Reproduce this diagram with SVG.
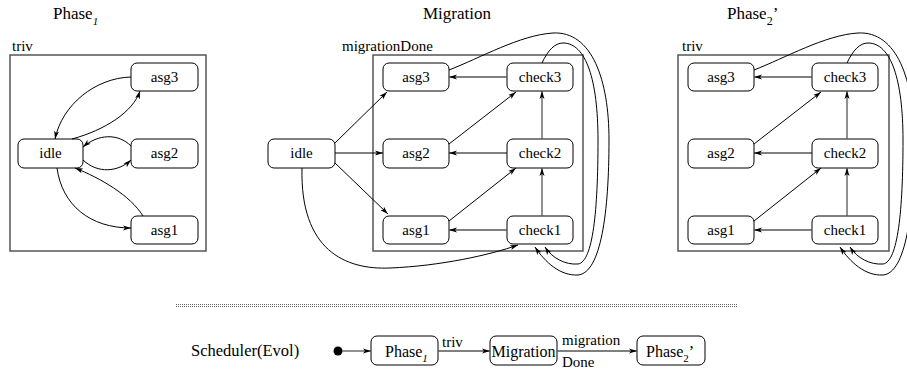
<svg xmlns="http://www.w3.org/2000/svg" width="907" height="371" viewBox="0 0 907 371">
<style>
text{fill:#000}
.n{font-size:15px;text-anchor:middle}
.t{font-size:17px}
.l{font-size:15px}
.sub{font-size:11px;font-style:italic}
.node{fill:#fff;stroke:#000;stroke-width:1}
.box{fill:none;stroke:#555;stroke-width:1.5}
.c{fill:none;stroke:#000;stroke-width:1;marker-end:url(#ah)}
.g{fill:none;stroke:#555;stroke-width:1.3;marker-end:url(#ah)}
</style>
<defs>
<marker id="ah" markerWidth="9" markerHeight="6" refX="8" refY="3" orient="auto" markerUnits="userSpaceOnUse">
<path d="M0,0.5 L8,3 L0,5.5 L2,3 z" fill="#000"/>
</marker>
<pattern id="dots" width="2" height="2" patternUnits="userSpaceOnUse">
<rect width="1" height="1" fill="#666"/>
</pattern>
</defs>
<g font-family="'Liberation Serif', 'DejaVu Serif', serif">

<!-- Titles -->
<g id="titles">
<text class="t" x="53" y="19">Phase<tspan class="sub" dy="6">1</tspan></text>
<text class="t" x="423" y="19">Migration</text>
<text class="t" x="727" y="19">Phase<tspan font-size="12px" dy="6">2</tspan><tspan dy="-6">’</tspan></text>
</g>

<!-- Phase1 panel -->
<g id="phase1-box">
<rect class="box" x="10" y="55" width="196" height="196"/>
<text class="l" x="12" y="51">triv</text>
</g>
<g id="p1-asg3"><rect class="node" x="131" y="63" width="67" height="28" rx="6"/><text class="n" x="164.5" y="82">asg3</text></g>
<g id="p1-idle"><rect class="node" x="18" y="139" width="65" height="29" rx="6"/><text class="n" x="50.5" y="158">idle</text></g>
<g id="p1-asg2"><rect class="node" x="131" y="139" width="67" height="29" rx="6"/><text class="n" x="164.5" y="158">asg2</text></g>
<g id="p1-asg1"><rect class="node" x="131" y="216" width="67" height="28" rx="6"/><text class="n" x="164.5" y="235">asg1</text></g>

<!-- Migration panel -->
<g id="migration-box">
<rect class="box" x="373" y="55" width="210" height="196"/>
<text class="l" x="342" y="51">migrationDone</text>
</g>
<g id="m-idle"><rect class="node" x="268" y="139" width="67" height="29" rx="6"/><text class="n" x="301.5" y="158">idle</text></g>
<g id="m-asg3"><rect class="node" x="383" y="63" width="66" height="28" rx="6"/><text class="n" x="416" y="82">asg3</text></g>
<g id="m-asg2"><rect class="node" x="383" y="139" width="66" height="29" rx="6"/><text class="n" x="416" y="158">asg2</text></g>
<g id="m-asg1"><rect class="node" x="383" y="216" width="66" height="28" rx="6"/><text class="n" x="416" y="235">asg1</text></g>
<g id="m-check3"><rect class="node" x="507" y="63" width="66" height="28" rx="6"/><text class="n" x="540" y="82">check3</text></g>
<g id="m-check2"><rect class="node" x="507" y="139" width="66" height="29" rx="6"/><text class="n" x="540" y="158">check2</text></g>
<g id="m-check1"><rect class="node" x="507" y="216" width="66" height="28" rx="6"/><text class="n" x="540" y="235">check1</text></g>

<!-- Phase2' panel -->
<g id="phase2-box">
<rect class="box" x="678" y="55" width="211" height="196"/>
<text class="l" x="682" y="51">triv</text>
</g>
<g id="p2-asg3"><rect class="node" x="688" y="63" width="66" height="28" rx="6"/><text class="n" x="721" y="82">asg3</text></g>
<g id="p2-asg2"><rect class="node" x="688" y="139" width="66" height="29" rx="6"/><text class="n" x="721" y="158">asg2</text></g>
<g id="p2-asg1"><rect class="node" x="688" y="216" width="66" height="28" rx="6"/><text class="n" x="721" y="235">asg1</text></g>
<g id="p2-check3"><rect class="node" x="812" y="63" width="66" height="28" rx="6"/><text class="n" x="845" y="82">check3</text></g>
<g id="p2-check2"><rect class="node" x="812" y="139" width="66" height="29" rx="6"/><text class="n" x="845" y="158">check2</text></g>
<g id="p2-check1"><rect class="node" x="812" y="216" width="66" height="28" rx="6"/><text class="n" x="845" y="235">check1</text></g>

<!-- Scheduler -->
<g id="separator"><rect x="175" y="303" width="562" height="4" fill="url(#dots)"/></g>
<g id="s-label"><text x="191" y="356" font-size="16.5px">Scheduler(Evol)</text></g>
<g id="s-init"><circle cx="338" cy="351" r="4.5" fill="#000"/></g>
<g id="s-phase1"><rect class="node" x="371" y="336" width="67" height="29" rx="6"/><text x="385" y="357" font-size="16px">Phase<tspan class="sub" dy="5">1</tspan></text></g>
<g id="s-migration"><rect class="node" x="490" y="336" width="67" height="29" rx="6"/><text x="523.5" y="357" font-size="16px" text-anchor="middle">Migration</text></g>
<g id="s-phase2"><rect class="node" x="637" y="336" width="68" height="29" rx="6"/><text x="646" y="357" font-size="16px">Phase<tspan font-size="11px" dy="5">2</tspan><tspan dy="-5">’</tspan></text></g>

<g id="connectors">
<!-- Phase1 -->
<path class="c" d="M131,77 C95,78 62,105 55,139"/>
<path class="c" d="M72,139 C105,130 133,112 140,91"/>
<path class="c" d="M131,146 C118,133 98,134 83,147"/>
<path class="c" d="M83,160 C98,174 118,172 131,160"/>
<path class="c" d="M143,216 C130,195 100,178 75,168"/>
<path class="c" d="M57,168 C62,205 90,228 131,228"/>
<!-- Migration -->
<path class="c" d="M335,143 L387,92"/>
<path class="c" d="M335,153 L383,153"/>
<path class="c" d="M335,163 L388,214"/>
<path class="c" d="M302,168 C300,250 345,270 390,268 C440,266 490,255 518,245"/>
<path class="g" d="M507,77 L449,77"/>
<path class="c" d="M507,153 L449,153"/>
<path class="g" d="M507,230 L449,230"/>
<path class="c" d="M449,144 L516,92"/>
<path class="c" d="M449,221 L516,168"/>
<path class="g" d="M542,139 L542,91"/>
<path class="g" d="M542,216 L542,168"/>
<path class="c" d="M449,70 C480,58 520,35 553,33 C592,31 609,80 609,140 C609,212 601,273 578,275 C560,276 545,262 535,247"/>
<path class="c" d="M542,63 C548,50 555,43 563,43 C586,43 598,80 598,140 C598,210 593,262 578,264 C565,265 552,258 545,247"/>
<!-- Phase2' -->
<path class="g" d="M812,77 L754,77"/>
<path class="c" d="M812,153 L754,153"/>
<path class="g" d="M812,230 L754,230"/>
<path class="c" d="M754,144 L821,92"/>
<path class="c" d="M754,221 L821,168"/>
<path class="g" d="M847,139 L847,91"/>
<path class="g" d="M847,216 L847,168"/>
<path class="c" d="M754,70 C785,58 825,35 858,33 C897,31 914,80 914,140 C914,212 906,273 883,275 C865,276 850,262 840,247"/>
<path class="c" d="M847,63 C853,50 860,43 868,43 C891,43 903,80 903,140 C903,210 898,262 883,264 C870,265 857,258 850,247"/>
<!-- Scheduler -->
<path class="g" d="M342,351 L371,351"/>
<path class="g" d="M438,351 L490,351"/>
<path class="g" d="M557,351 L637,351"/>
<text class="l" x="442" y="347">triv</text>
<text class="l" x="562" y="345">migration</text>
<text class="l" x="562" y="367">Done</text>
</g>
</g>
</svg>
